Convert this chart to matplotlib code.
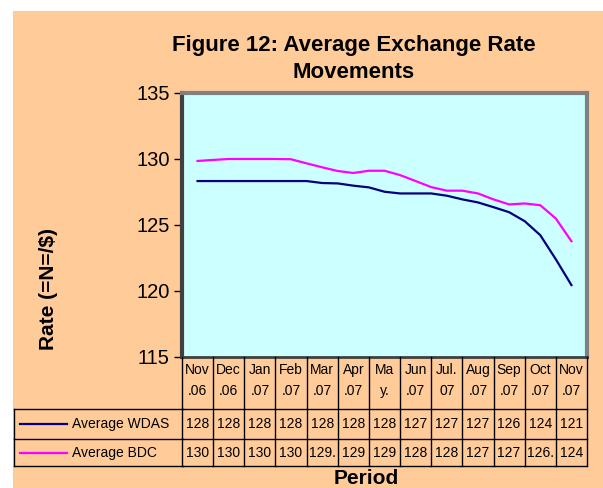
import numpy as np
import matplotlib
matplotlib.use('Agg')
import matplotlib.pyplot as plt
from matplotlib.transforms import blended_transform_factory
from matplotlib.lines import Line2D
from matplotlib.patches import Rectangle

plt.rcParams['font.family'] = ['Liberation Sans', 'DejaVu Sans']

# header of the data table (two lines per month)
months_top = ['Nov', 'Dec', 'Jan', 'Feb', 'Mar', 'Apr', 'Ma', 'Jun', 'Jul.', 'Aug', 'Sep', 'Oct', 'Nov']
months_bot = ['.06', '.06', '.07', '.07', '.07', '.07', 'y.', '.07', '07', '.07', '.07', '.07', '.07']

# values printed in the table
wdas_tab = ['128', '128', '128', '128', '128', '128', '128', '127', '127', '127', '126', '124', '121']
bdc_tab = ['130', '130', '130', '130', '129.', '129', '129', '128', '128', '127', '127', '126.', '124']

# lines, two readings per month
wdas = [128.33, 128.33, 128.33, 128.33, 128.33, 128.33, 128.33, 128.33, 128.18, 128.15,
        127.98, 127.85, 127.52, 127.39, 127.39, 127.39, 127.22, 126.94, 126.71, 126.35,
        125.97, 125.29, 124.23, 122.40, 120.45]
bdc = [129.85, 129.93, 130.0, 130.0, 130.0, 130.0, 129.98, 129.67, 129.37, 129.09,
       128.94, 129.11, 129.11, 128.78, 128.33, 127.87, 127.6, 127.6, 127.39, 126.94,
       126.56, 126.63, 126.5, 125.49, 123.77]

W, H = 603, 488
def fx(px):
    return px / W
def fy(py):
    return 1 - py / H

peach = '#FFCC99'
fig = plt.figure(figsize=(W / 100, H / 100), dpi=100, facecolor='white')
fig.patches.append(Rectangle((fx(13), 0), 1 - fx(13), fy(11), transform=fig.transFigure,
                             facecolor=peach, edgecolor='none', zorder=-10))

ax = fig.add_axes([fx(182), fy(357), fx(587) - fx(182), fy(93) - fy(357)])
ax.set_facecolor('#CCFFFF')

x = np.arange(len(wdas)) / 2
ax.plot(x, wdas, color='#000080', lw=1.6, zorder=3)
ax.plot(x, bdc, color='#FF00FF', lw=1.6, zorder=3)

n = len(months_top)
ax.set_xlim(-0.5, n - 0.5)
ax.set_ylim(115, 135)
ax.set_yticks([115, 120, 125, 130, 135])
ax.tick_params(axis='y', direction='out', length=6, width=1, labelsize=14.5, pad=3, colors='black')
ax.set_xticks([])
for s in ['top', 'right']:
    ax.spines[s].set_color('#808080')
    ax.spines[s].set_linewidth(3)
ax.spines['left'].set_color('#404040')
ax.spines['left'].set_linewidth(3)
ax.spines['bottom'].set_color('#404040')
ax.spines['bottom'].set_linewidth(2)

fig.text(fx(48), fy(289), 'Rate (=N=/$)', rotation=90, ha='center', va='center',
         fontsize=15, fontweight='bold')

# data table under the axis
tr = blended_transform_factory(ax.transData, fig.transFigure)
y_top, y_head, y_mid, y_bot = fy(357), fy(409), fy(439), fy(466)
for i in range(n + 1):
    fig.add_artist(Line2D([i - 0.5, i - 0.5], [y_top, y_bot], transform=tr, color='black', lw=1))
for yy in [y_head, y_mid, y_bot]:
    fig.add_artist(Line2D([fx(14), fx(183)], [yy, yy], transform=fig.transFigure, color='black', lw=1))
    fig.add_artist(Line2D([-0.5, n - 0.5], [yy, yy], transform=tr, color='black', lw=1))
fig.add_artist(Line2D([fx(14), fx(14)], [y_head, y_bot], transform=fig.transFigure, color='black', lw=1))

for i in range(n):
    fig.text(i, fy(370), months_top[i], transform=tr, ha='center', va='center', fontsize=10)
    fig.text(i, fy(391), months_bot[i], transform=tr, ha='center', va='center', fontsize=10)
    fig.text(i, fy(424), wdas_tab[i], transform=tr, ha='center', va='center', fontsize=10)
    fig.text(i, fy(453), bdc_tab[i], transform=tr, ha='center', va='center', fontsize=10)

fig.add_artist(Line2D([fx(20), fx(67)], [fy(424), fy(424)], transform=fig.transFigure, color='#000080', lw=1.6))
fig.add_artist(Line2D([fx(20), fx(67)], [fy(453), fy(453)], transform=fig.transFigure, color='#FF00FF', lw=1.6))
fig.text(fx(72), fy(424), 'Average WDAS', ha='left', va='center', fontsize=10)
fig.text(fx(72), fy(453), 'Average BDC', ha='left', va='center', fontsize=10)

fig.text(fx(366), fy(478), 'Period', ha='center', va='center', fontsize=15, fontweight='bold')
fig.text(fx(354), fy(45), 'Figure 12: Average Exchange Rate', ha='center', va='center',
         fontsize=16, fontweight='bold')
fig.text(fx(354), fy(72), 'Movements', ha='center', va='center', fontsize=16, fontweight='bold')

fig.savefig('out.png', dpi=100, facecolor=fig.get_facecolor())
